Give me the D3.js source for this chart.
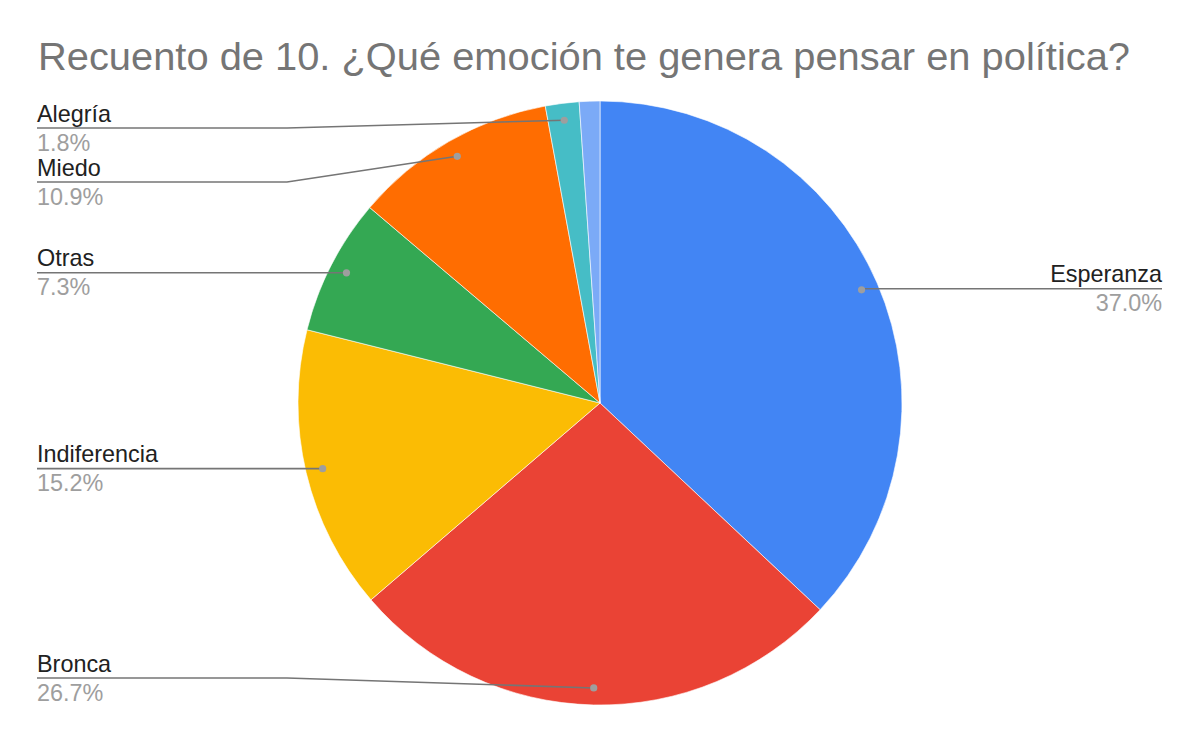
<!DOCTYPE html>
<html><head><meta charset="utf-8">
<script src="https://cdn.jsdelivr.net/npm/d3@7"></script>
<style>body{margin:0;background:#fff}svg{display:block}</style>
</head><body>
<svg id="c" width="1200" height="742"></svg>
<script>
const title = "Recuento de 10. ¿Qué emoción te genera pensar en política?";
const categories = ["Esperanza","Bronca","Indiferencia","Otras","Miedo","Alegría","Otro"];
const values = [37.0, 26.7, 15.2, 7.3, 10.9, 1.8, 1.1];
const showLabel = [true,true,true,true,true,true,false];
const colors = ["#4285f4","#ea4335","#fbbc04","#34a853","#ff6d01","#46bdc6","#7baaf7"];

const W=1200,H=742, cx=600, cy=403, R=302;
const svg=d3.select("#c");
const FONT="Arial, 'Liberation Sans', sans-serif";

const tt=svg.append("text").attr("x",38).attr("y",70).attr("font-family",FONT)
  .attr("font-size",39).attr("fill","#757575").text(title);
// fit title width to reference span
const tw=tt.node().getComputedTextLength();
tt.attr("textLength",1092).attr("lengthAdjust","spacingAndGlyphs");
if(Math.abs(tw-1092)>60) tt.attr("textLength",null);

const pie=d3.pie().sort(null).value(d=>d.v);
const data=pie(categories.map((c,i)=>({c,v:values[i],i})));
const arc=d3.arc().innerRadius(0).outerRadius(R);
const g=svg.append("g").attr("transform",`translate(${cx},${cy})`);
g.selectAll("path").data(data).join("path").attr("d",arc)
  .attr("fill",d=>colors[d.data.i]).attr("stroke","#fff").attr("stroke-width",0.6);

const total=d3.sum(values);
const anchorR=285;
const labels=data.filter(d=>showLabel[d.data.i]).map(d=>{
  const a=(d.startAngle+d.endAngle)/2;
  return {d, ax:cx+anchorR*Math.sin(a), ay:cy-anchorR*Math.cos(a), right:Math.sin(a)>0};
});
const left=labels.filter(l=>!l.right).sort((a,b)=>a.ay-b.ay);
const minY=128,maxY=678,gap=54;
left.forEach((l,k)=>{
  let y=Math.max(minY,Math.min(maxY,l.ay));
  if(k>0) y=Math.max(y,left[k-1].y+gap);
  l.y=y;
});
labels.filter(l=>l.right).forEach(l=>l.y=l.ay-1);

const fmt=v=>(v/total*100).toFixed(1)+"%";
const lg=svg.append("g");
labels.forEach(l=>{
  const pts = l.right ? [[l.ax,l.y],[1162,l.y]] : [[37,l.y],[287,l.y],[l.ax,l.ay]];
  lg.append("path").attr("d",d3.line()(pts)).attr("fill","none")
    .attr("stroke","#757575").attr("stroke-width",1.6);
  lg.append("circle").attr("cx",l.ax).attr("cy",l.ay).attr("r",3.6).attr("fill","#9e9e9e");
  const tx=l.right?1162:37, anchor=l.right?"end":"start";
  lg.append("text").attr("x",tx).attr("y",l.y-6.5).attr("text-anchor",anchor)
    .attr("font-family",FONT).attr("font-size",23.4).attr("fill","#212121").text(l.d.data.c);
  lg.append("text").attr("x",tx).attr("y",l.y+22.5).attr("text-anchor",anchor)
    .attr("font-family",FONT).attr("font-size",23.4).attr("fill","#9e9e9e").text(fmt(l.d.data.v));
});
</script>
</body></html>
